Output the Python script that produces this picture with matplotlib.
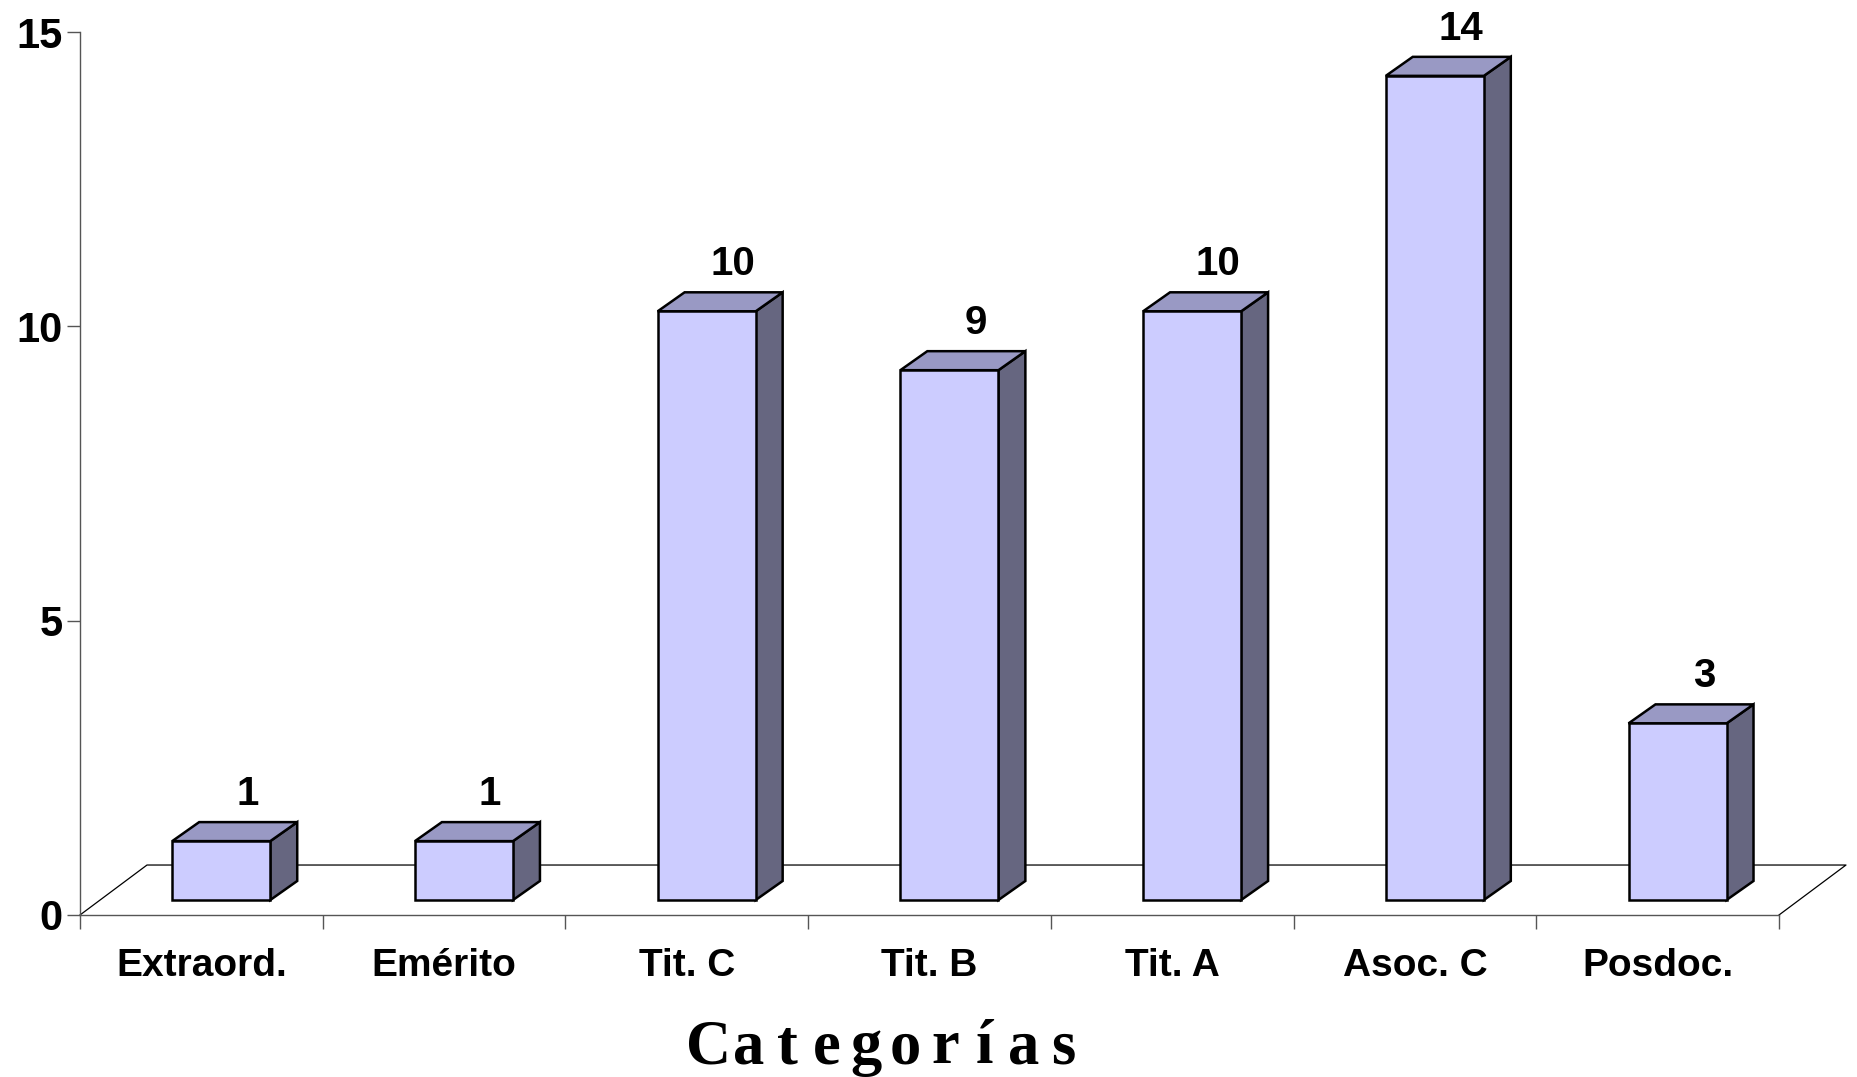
import matplotlib.pyplot as plt
from matplotlib.patches import Polygon

# ---------------------------------------------------
# Data
# ---------------------------------------------------

categories = ["Extraord.", "Emérito", "Tit. C", "Tit. B",
              "Tit. A", "Asoc. C", "Posdoc."]
values = [1, 1, 10, 9, 10, 14, 3]
y_ticks = [0, 5, 10, 15]
x_title = "Categorías"

# ---------------------------------------------------
# Style / pseudo-3D geometry (in axis units)
# ---------------------------------------------------

front_color = "#CCCCFF"
top_color = "#9999C4"
side_color = "#666680"

floor_dx, floor_dy = 0.276, 0.849   # floor depth
bar_w = 0.404
front_dx, front_dy = 0.082, 0.255   # bar front plane offset
depth_dx, depth_dy = 0.111, 0.323   # bar depth

sans = "Liberation Sans"
serif = "Liberation Serif"

fig = plt.figure(figsize=(18.58, 10.77), dpi=100)
ax = fig.add_axes([80 / 1858, 162 / 1077, 1699 / 1858, 883 / 1077])

n = len(categories)
ax.set_xlim(0, n)
ax.set_ylim(0, 15)

# floor outline
ax.plot([0, floor_dx, n + floor_dx, n], [0, floor_dy, floor_dy, 0],
        color="black", lw=0.9, clip_on=False, zorder=1)

for i, v in enumerate(values):
    x0 = i + 0.5 - bar_w / 2 + front_dx
    x1 = x0 + bar_w
    y0 = front_dy
    y1 = v + front_dy
    front = [(x0, y0), (x1, y0), (x1, y1), (x0, y1)]
    top = [(x0, y1), (x1, y1), (x1 + depth_dx, y1 + depth_dy),
           (x0 + depth_dx, y1 + depth_dy)]
    side = [(x1, y0), (x1 + depth_dx, y0 + depth_dy),
            (x1 + depth_dx, y1 + depth_dy), (x1, y1)]
    for pts, c in [(side, side_color), (top, top_color), (front, front_color)]:
        ax.add_patch(Polygon(pts, closed=True, facecolor=c,
                             edgecolor="black", lw=1.8,
                             joinstyle="miter", clip_on=False, zorder=3))
    ax.text(i + 0.5 + 0.19, y1 + depth_dy + 0.29, str(v),
            ha="center", va="baseline", fontsize=29,
            fontweight="bold", family=sans, clip_on=False)
    ax.text(i + 0.5, -1.036, categories[i], ha="center", va="baseline",
            fontsize=28, fontweight="bold", family=sans, clip_on=False)

# axes
for s in ["top", "right"]:
    ax.spines[s].set_visible(False)
for s in ["left", "bottom"]:
    ax.spines[s].set_color("#555555")
    ax.spines[s].set_linewidth(1.0)

ax.set_xticks(range(n + 1))
ax.set_xticklabels([])
ax.tick_params(axis="x", direction="out", length=10, width=1.0,
               color="#555555")
ax.set_yticks(y_ticks)
ax.set_yticklabels([str(t) for t in y_ticks], fontsize=30,
                   fontweight="bold", family=sans)
ax.tick_params(axis="y", direction="out", length=9.4, width=1.0,
               color="#555555", pad=3)

# spaced x title
step = 0.162
cx = 3.32
for k, ch in enumerate(x_title):
    ax.text(cx + (k - (len(x_title) - 1) / 2) * step, -2.52, ch,
            ha="center", va="baseline", fontsize=45,
            fontweight="bold", family=serif, clip_on=False)

fig.savefig("out.png", dpi=100)
